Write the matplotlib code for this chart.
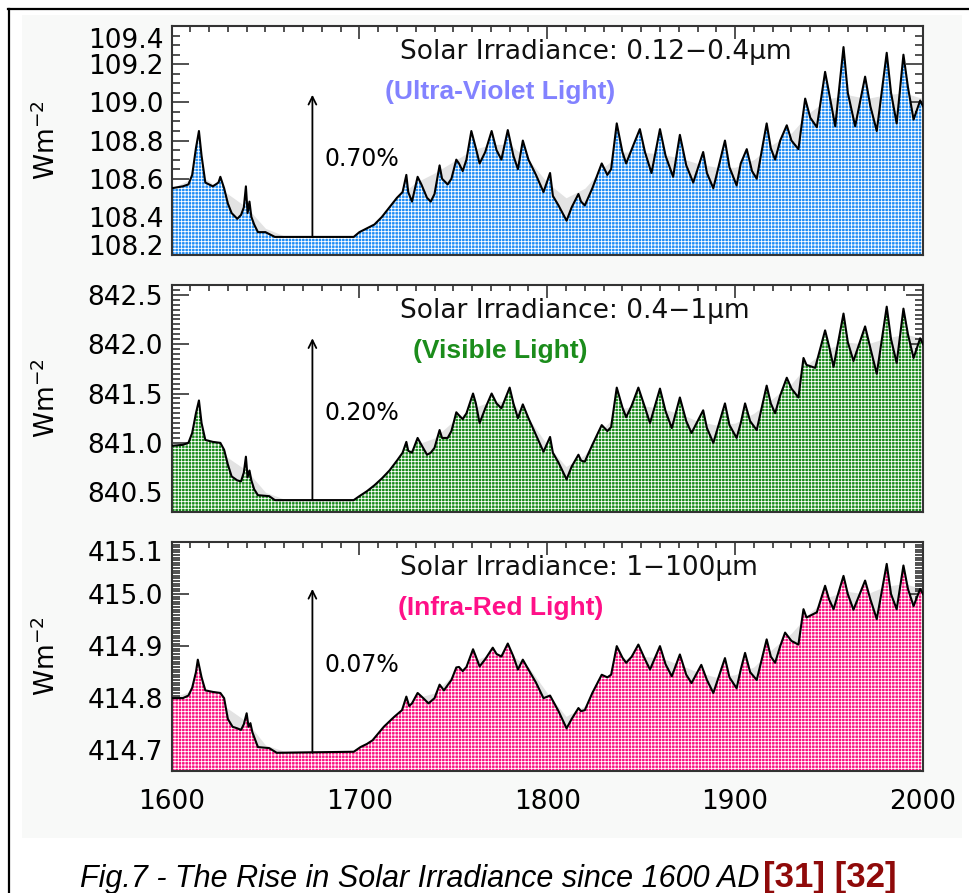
import numpy as np
import matplotlib
matplotlib.use('Agg')
from matplotlib import pyplot as plt
from matplotlib.ticker import MultipleLocator
from matplotlib.lines import Line2D
from matplotlib.patches import Rectangle

# ---------------- data ----------------
uv_years = [1600, 1606, 1609, 1611, 1613, 1614.6, 1616, 1618, 1622, 1625, 1626, 1628, 1630, 1632,
            1635, 1637, 1638.5, 1639.6, 1640.5, 1641.5, 1642.5, 1644, 1646, 1650, 1652, 1655, 1697,
            1700, 1704, 1708, 1712, 1716, 1720, 1723, 1725, 1726, 1728, 1731, 1733, 1736, 1738, 1740,
            1742.7, 1744, 1747, 1749, 1751.6, 1753, 1755, 1757, 1759.6, 1762, 1764, 1767, 1770.4,
            1773, 1775.6, 1779, 1782, 1784.4, 1787, 1790, 1794, 1798, 1801.5, 1803, 1806, 1810.3,
            1813, 1816.6, 1818, 1820, 1824, 1829, 1832, 1834, 1837, 1840, 1842, 1846, 1849.3, 1852,
            1855.5, 1860, 1863, 1867, 1870.6, 1874, 1877.7, 1883, 1885, 1888.4, 1894.6, 1897,
            1900.8, 1903, 1906.2, 1909, 1911.5, 1916.8, 1919, 1921.3, 1924, 1927.5, 1930, 1933.7,
            1937.3, 1940, 1943.5, 1947.9, 1950, 1953.3, 1957.7, 1960, 1963.9, 1969.2, 1972, 1975.4,
            1980.7, 1983, 1986, 1989.6, 1992, 1995, 1998.5, 2000]
uv_vals = [108.55, 108.56, 108.57, 108.62, 108.76, 108.85, 108.72, 108.58, 108.56, 108.58, 108.61,
           108.55, 108.47, 108.42, 108.39, 108.41, 108.45, 108.56, 108.42, 108.48, 108.40, 108.36,
           108.32, 108.32, 108.31, 108.295, 108.295, 108.32, 108.34, 108.36, 108.40, 108.45, 108.50,
           108.53, 108.62, 108.53, 108.48, 108.61, 108.57, 108.50, 108.48, 108.52, 108.67, 108.60,
           108.57, 108.60, 108.70, 108.68, 108.64, 108.70, 108.85, 108.76, 108.68, 108.74, 108.85,
           108.75, 108.70, 108.855, 108.72, 108.65, 108.80, 108.70, 108.62, 108.53, 108.63, 108.51,
           108.46, 108.38, 108.45, 108.52, 108.48, 108.46, 108.55, 108.68, 108.62, 108.65, 108.89,
           108.74, 108.68, 108.78, 108.86, 108.74, 108.63, 108.86, 108.72, 108.61, 108.83, 108.67,
           108.58, 108.74, 108.63, 108.55, 108.80, 108.66, 108.565, 108.68, 108.755, 108.64, 108.60,
           108.89, 108.76, 108.70, 108.80, 108.88, 108.80, 108.755, 109.02, 108.92, 108.87, 109.16,
           109.05, 108.875, 109.29, 109.05, 108.875, 109.135, 108.98, 108.85, 109.26, 109.05,
           108.89, 109.25, 109.08, 108.91, 109.01, 108.98]

vis_years = [1600, 1606, 1609, 1611, 1613, 1614.6, 1616, 1618, 1622, 1626, 1628, 1630, 1632, 1635,
             1637, 1638.5, 1639.6, 1640.5, 1641.5, 1642.5, 1644, 1646, 1652, 1655, 1697, 1700, 1704,
             1708, 1712, 1716, 1720, 1723, 1725, 1726, 1728, 1731, 1733, 1736, 1738, 1740, 1742.7,
             1744, 1747, 1749, 1751.6, 1753, 1755, 1757, 1760.5, 1762, 1764, 1767, 1770.4, 1773,
             1775.6, 1780, 1782, 1784.4, 1787, 1790, 1794, 1798, 1801.5, 1803, 1806, 1810.3, 1813,
             1816.6, 1818, 1820, 1824, 1829, 1832, 1834, 1837, 1840, 1842, 1845, 1848.5, 1852,
             1854.7, 1860, 1863, 1866.3, 1870.6, 1874, 1876.8, 1883, 1885, 1888.4, 1894.6, 1897,
             1900.8, 1903, 1905.3, 1908, 1911.5, 1916.8, 1919, 1921.3, 1924, 1927.5, 1930, 1933.7,
             1936.4, 1938, 1942.6, 1947.9, 1950, 1952.4, 1957.7, 1960, 1963, 1969.2, 1972, 1975.4,
             1980.7, 1983, 1986, 1989.6, 1992, 1995, 1998.5, 2000]
vis_vals = [840.97, 840.98, 841.00, 841.10, 841.30, 841.43, 841.20, 841.03, 841.01, 841.00, 840.93,
            840.78, 840.66, 840.62, 840.61, 840.70, 840.86, 840.65, 840.72, 840.62, 840.53, 840.47,
            840.46, 840.42, 840.42, 840.46, 840.51, 840.57, 840.64, 840.72, 840.82, 840.90, 841.01,
            840.92, 840.90, 841.05, 840.98, 840.88, 840.90, 840.95, 841.13, 841.05, 841.05, 841.12,
            841.31, 841.28, 841.24, 841.30, 841.50, 841.40, 841.20, 841.35, 841.50, 841.40, 841.35,
            841.56, 841.40, 841.25, 841.39, 841.25, 841.08, 840.91, 841.06, 840.90, 840.80, 840.63,
            840.76, 840.88, 840.82, 840.81, 840.98, 841.18, 841.12, 841.16, 841.56, 841.36, 841.26,
            841.38, 841.56, 841.36, 841.20, 841.55, 841.32, 841.15, 841.46, 841.22, 841.10, 841.33,
            841.15, 841.00, 841.40, 841.18, 841.05, 841.20, 841.40, 841.22, 841.13, 841.58, 841.40,
            841.30, 841.48, 841.66, 841.55, 841.46, 841.86, 841.79, 841.76, 842.14, 841.98, 841.77,
            842.31, 842.02, 841.83, 842.18, 841.96, 841.70, 842.38, 842.05, 841.81, 842.36, 842.10,
            841.86, 842.06, 842.00]

ir_years = [1600, 1606, 1609, 1611, 1613, 1614, 1616, 1618, 1622, 1626, 1628, 1630, 1632.5, 1635,
            1637, 1638.5, 1640, 1641, 1642, 1643, 1646, 1652, 1656, 1697, 1700.6, 1704, 1707, 1713,
            1718.5, 1722.7, 1725, 1726.5, 1728, 1731, 1734, 1736.8, 1740, 1742.7, 1745, 1749,
            1751.6, 1753, 1755, 1757, 1760.5, 1762, 1764, 1767, 1771, 1773, 1775.6, 1779, 1782,
            1784.4, 1787, 1790, 1794, 1798, 1801.5, 1803, 1806, 1810.3, 1813, 1816.6, 1818, 1820,
            1824, 1829, 1832, 1834, 1837, 1840, 1842, 1845, 1848.5, 1852, 1854.7, 1860, 1863,
            1866.3, 1870.6, 1874, 1876.8, 1882, 1885, 1888.4, 1894.6, 1897, 1900.8, 1903, 1905.3,
            1908, 1911.5, 1916.8, 1919, 1921.3, 1924, 1926.6, 1930, 1933.7, 1936.4, 1938, 1943.5,
            1947.9, 1950, 1952.4, 1957.7, 1960, 1963, 1969.2, 1972, 1975.4, 1980.7, 1983, 1986,
            1989.6, 1992, 1995, 1998.5, 2000]
ir_vals = [414.800, 414.800, 414.805, 414.820, 414.850, 414.874, 414.840, 414.815, 414.812, 414.810,
           414.800, 414.760, 414.745, 414.742, 414.739, 414.750, 414.771, 414.745, 414.752, 414.735,
           414.706, 414.704, 414.695, 414.697, 414.706, 414.712, 414.719, 414.745, 414.764, 414.777,
           414.803, 414.785, 414.790, 414.810, 414.800, 414.790, 414.800, 414.826, 414.815, 414.835,
           414.859, 414.860, 414.852, 414.860, 414.894, 414.880, 414.861, 414.875, 414.897, 414.885,
           414.880, 414.905, 414.880, 414.855, 414.874, 414.855, 414.830, 414.800, 414.805, 414.795,
           414.775, 414.742, 414.760, 414.781, 414.775, 414.777, 414.810, 414.845, 414.840, 414.845,
           414.900, 414.878, 414.868, 414.880, 414.903, 414.875, 414.855, 414.900, 414.865, 414.842,
           414.884, 414.845, 414.829, 414.864, 414.835, 414.810, 414.877, 414.840, 414.819, 414.855,
           414.887, 414.850, 414.835, 414.913, 414.880, 414.868, 414.900, 414.926, 414.910, 414.903,
           414.971, 414.955, 414.965, 415.016, 414.990, 414.971, 415.035, 415.000, 414.970, 415.026,
           414.990, 414.952, 415.058, 415.000, 414.971, 415.055, 415.010, 414.977, 415.010, 415.000]

# light grey shadow curve seen behind the coloured areas
shadow_years = [1600, 1615, 1630, 1640, 1650, 1660, 1700, 1710, 1720, 1730, 1740, 1750, 1760, 1770,
                1780, 1790, 1800, 1810, 1820, 1830, 1840, 1850, 1860, 1870, 1880, 1890, 1900, 1910,
                1920, 1930, 1940, 1950, 1960, 1970, 1980, 1990, 2000]
uv_shadow = [108.55, 108.62, 108.52, 108.45, 108.34, 108.30, 108.30, 108.38, 108.50, 108.58, 108.63,
             108.69, 108.75, 108.78, 108.78, 108.70, 108.58, 108.50, 108.55, 108.66, 108.74, 108.74,
             108.73, 108.71, 108.68, 108.66, 108.66, 108.70, 108.78, 108.84, 108.95, 109.02, 109.04,
             109.02, 109.04, 109.05, 109.02]
vis_shadow = [840.97, 841.05, 840.85, 840.72, 840.50, 840.43, 840.43, 840.57, 840.80, 840.98, 841.05,
              841.22, 841.35, 841.42, 841.42, 841.25, 840.98, 840.76, 840.88, 841.15, 841.35, 841.38,
              841.35, 841.30, 841.22, 841.18, 841.20, 841.30, 841.45, 841.60, 841.82, 841.96, 842.02,
              842.00, 842.06, 842.10, 842.06]
ir_shadow = [414.800, 414.820, 414.780, 414.755, 414.710, 414.698, 414.700, 414.725, 414.770, 414.800,
             414.810, 414.845, 414.870, 414.885, 414.885, 414.860, 414.810, 414.765, 414.785, 414.835,
             414.875, 414.880, 414.878, 414.865, 414.850, 414.840, 414.845, 414.860, 414.895, 414.925,
             414.965, 414.995, 415.005, 415.000, 415.015, 415.020, 415.010]

titles = ['Solar Irradiance: 0.12\u22120.4\u03bcm', 'Solar Irradiance: 0.4\u22121\u03bcm',
          'Solar Irradiance: 1\u2212100\u03bcm']
subtitles = ['(Ultra-Violet Light)', '(Visible Light)', '(Infra-Red Light)']
pct_labels = ['0.70%', '0.20%', '0.07%']
arrow_year = 1675
arrow_base = [108.295, 840.42, 414.695]
arrow_top = [109.04, 842.06, 415.01]
pct_y = [108.705, 841.30, 414.864]
y_ticks = [[108.2, 108.4, 108.6, 108.8, 109.0, 109.2, 109.4],
           [840.5, 841.0, 841.5, 842.0, 842.5],
           [414.7, 414.8, 414.9, 415.0, 415.1]]
y_limits = [(108.2, 109.4), (840.3, 842.6), (414.66, 415.10)]
y_minor = [0.05, 0.05, 0.005]
x_ticks = [1600, 1700, 1800, 1900, 2000]

# ---------------- styling ----------------
fill_colors = ['#1d8cf5', '#17891a', '#fa107f']
sub_colors = ['#8282ff', '#1b8c1b', '#ff1088']
# px shift of the end tick labels (the original pushes them inside the box)
label_shift = [{109.4: -12, 108.2: 10}, {}, {415.1: -9}]
positions = [[0.177, 0.7144, 0.7755, 0.2564],
             [0.177, 0.4267, 0.7755, 0.2542],
             [0.177, 0.1366, 0.7755, 0.2564]]

plt.rcParams['font.family'] = 'DejaVu Sans'
plt.rcParams['hatch.linewidth'] = 0.6

fig = plt.figure(figsize=(9.69, 8.93), dpi=100)
fig.patch.set_facecolor('white')
W, H = 969.0, 893.0
fig.add_artist(Rectangle((22 / W, 1 - 838 / H), (962 - 22) / W, (838 - 15) / H,
                         transform=fig.transFigure, facecolor='#f8f9f8', edgecolor='none', zorder=0))
fig.add_artist(Line2D([8 / W, 1.0], [1 - 9 / H, 1 - 9 / H], color='black', lw=1.6))
fig.add_artist(Line2D([8.5 / W, 8.5 / W], [0.0, 1 - 9 / H], color='black', lw=1.6))

series = [(uv_years, uv_vals, uv_shadow), (vis_years, vis_vals, vis_shadow), (ir_years, ir_vals, ir_shadow)]

for i, (yrs, vals, shadow) in enumerate(series):
    ax = fig.add_axes(positions[i])
    ax.set_facecolor('white')
    lo, hi = y_limits[i]
    ax.fill_between(shadow_years, shadow, lo, color='#e3e3e3', linewidth=0, zorder=1)
    ax.fill_between(yrs, vals, lo, facecolor=fill_colors[i], edgecolor='white',
                    hatch='+++++', linewidth=0, zorder=2)
    ax.plot(yrs, vals, color='black', lw=1.5, zorder=3)

    ax.set_xlim(1600, 2000)
    ax.set_ylim(lo, hi)
    ax.xaxis.set_major_locator(MultipleLocator(100))
    ax.xaxis.set_minor_locator(MultipleLocator(10))
    ax.yaxis.set_minor_locator(MultipleLocator(y_minor[i]))
    labels = []
    for t in y_ticks[i]:
        labels.append('' if t in label_shift[i] else f'{t:.1f}')
    ax.set_yticks(y_ticks[i], labels)
    for t, dy in label_shift[i].items():
        ax.annotate(f'{t:.1f}', xy=(0, t), xycoords=('axes fraction', 'data'),
                    xytext=(-6, dy * 0.72), textcoords='offset points',
                    ha='right', va='center_baseline', fontsize=19, annotation_clip=False)
    if i == 2:
        ax.set_xticks(x_ticks, [str(x) for x in x_ticks])
    else:
        ax.set_xticks(x_ticks, [''] * len(x_ticks))

    ax.tick_params(axis='both', which='both', direction='in', top=True, right=True,
                   width=1.1, color='#222222')
    ax.tick_params(axis='y', which='major', length=12, labelsize=19, pad=6)
    ax.tick_params(axis='y', which='minor', length=6)
    ax.tick_params(axis='x', which='major', length=9, labelsize=19, pad=13)
    ax.tick_params(axis='x', which='minor', length=4.5)
    for sp in ax.spines.values():
        sp.set_linewidth(1.5)
        sp.set_color('#333333')

    ax.text(1721.5, lo + (hi - lo) * 0.885, titles[i], fontsize=19, ha='left', va='center',
            color='#111111', zorder=4)
    ax.text(1775, lo + (hi - lo) * 0.71, subtitles[i], fontsize=19, fontweight='bold',
            family='Liberation Sans', ha='center', va='center', color=sub_colors[i], zorder=4)
    ax.annotate('', xy=(arrow_year, arrow_top[i]), xytext=(arrow_year, arrow_base[i]),
                arrowprops=dict(arrowstyle='->', lw=1.3, color='black', shrinkA=0, shrinkB=0,
                                mutation_scale=14), zorder=4)
    ax.text(1681.5, pct_y[i], pct_labels[i], fontsize=17, ha='left', va='center', zorder=4)

    fig.text(47 / W, positions[i][1] + positions[i][3] / 2, r'Wm$^{-2}$', rotation=90,
             fontsize=19, ha='center', va='center')

cap = fig.text(80 / W, 1 - 887 / H, 'Fig.7 - The Rise in Solar Irradiance since 1600 AD',
               fontsize=22, style='italic', family='Liberation Sans', ha='left', va='baseline')
fig.canvas.draw()
bb = cap.get_window_extent()
fig.text((bb.x1 + 4) / W, 1 - 887 / H, '[31] [32]', fontsize=25, fontweight='bold',
         family='Liberation Sans', color='#8f0a0a', ha='left', va='baseline')

fig.savefig('out.png', dpi=100)
